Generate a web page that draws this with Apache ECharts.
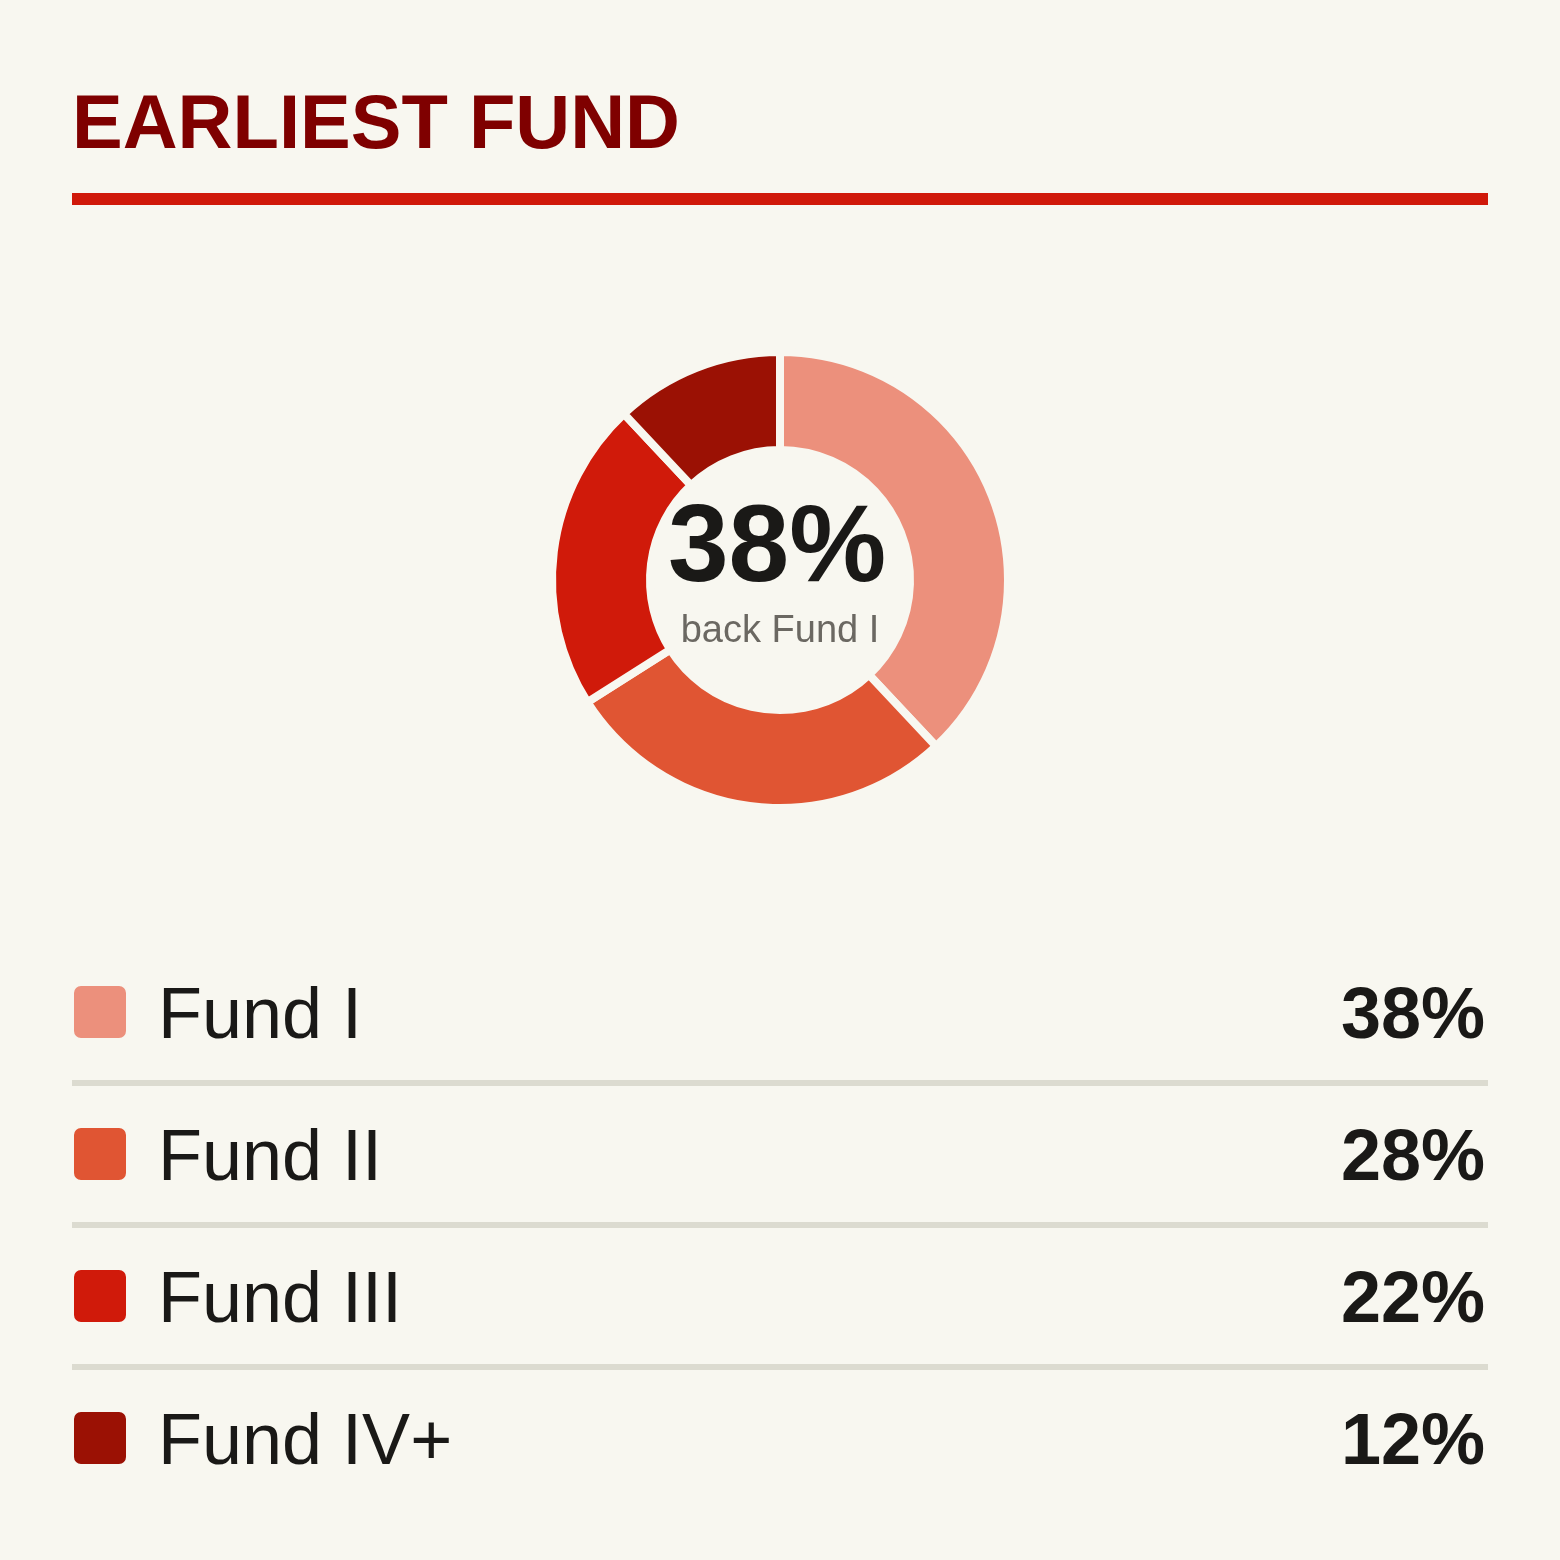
<!DOCTYPE html>
<html>
<head>
<meta charset="utf-8">
<script src="https://cdn.jsdelivr.net/npm/echarts@6/dist/echarts.min.js"></script>
<style>
  html, body { margin: 0; padding: 0; background: #f8f7f0; }
  #chart_main { width: 1560px; height: 1560px; }
</style>
</head>
<body>
<div id="chart_main"></div>
<script>
var chartTitle = 'EARLIEST FUND';
var funds = ['Fund I', 'Fund II', 'Fund III', 'Fund IV+'];
var shares = [38, 28, 22, 12];
var colors = ['#ec907c', '#e05533', '#d01a0a', '#9b1104'];

var bg = '#f8f7f0';
var font = '"Liberation Sans", Helvetica, Arial, sans-serif';

var myChart = echarts.init(document.getElementById('chart_main'));

var pieData = funds.map(function (name, i) {
    return { name: name, value: shares[i], itemStyle: { color: colors[i] } };
});

// legend rows 142px apart, each item 72px tall (the text height)
var rowStep = 142, itemH = 72;
// swatch path with 12px of empty room below it so the square sits a bit higher than the text centre
var swatch = 'path://M0,66M8,0H46A8,8 0 0 1 54,8V46A8,8 0 0 1 46,54H8A8,8 0 0 1 0,46V8A8,8 0 0 1 8,0Z';

var graphics = [
    {
        type: 'text', x: 72, y: 127,
        style: { text: chartTitle, font: 'bold 76px ' + font, fill: '#7f0000', verticalAlign: 'middle' }
    },
    {
        type: 'rect', shape: { x: 72, y: 193, width: 1416, height: 12 },
        style: { fill: '#d0190a' }
    },
    {
        type: 'text', x: 777, y: 551,
        style: { text: shares[0] + '%', font: 'bold 109px ' + font, fill: '#1a1917', align: 'center', verticalAlign: 'middle' }
    },
    {
        type: 'text', x: 780, y: 632,
        style: { text: 'back ' + funds[0], font: '38px ' + font, fill: '#6b6862', align: 'center', verticalAlign: 'middle' }
    }
];
for (var i = 0; i < funds.length - 1; i++) {
    graphics.push({
        type: 'rect',
        shape: { x: 72, y: 1080 + i * rowStep, width: 1416, height: 6 },
        style: { fill: '#dcdbd0' }
    });
}

option = {
    backgroundColor: bg,
    animation: false,
    graphic: graphics,
    legend: {
        orient: 'vertical',
        left: 72,
        top: 982,
        padding: 0,
        itemWidth: 54,
        itemHeight: 66,
        itemGap: rowStep - itemH,
        selectedMode: false,
        icon: swatch,
        data: funds,
        formatter: function (name) {
            var idx = funds.indexOf(name);
            return '{n|' + name + '}{v|' + shares[idx] + '%}';
        },
        textStyle: {
            rich: {
                n: { fontFamily: font, fontSize: 72, color: '#1a1917', width: 1153, padding: [0, 0, 0, 26] },
                v: { fontFamily: font, fontSize: 72, fontWeight: 'bold', color: '#1a1917', width: 174, align: 'right' }
            }
        }
    },
    series: [{
        type: 'pie',
        center: [780, 580],
        radius: [130, 228],
        startAngle: 90,
        clockwise: true,
        label: { show: false },
        labelLine: { show: false },
        emphasis: { disabled: true },
        itemStyle: { borderColor: bg, borderWidth: 8 },
        data: pieData
    }]
};

myChart.setOption(option);
</script>
</body>
</html>
